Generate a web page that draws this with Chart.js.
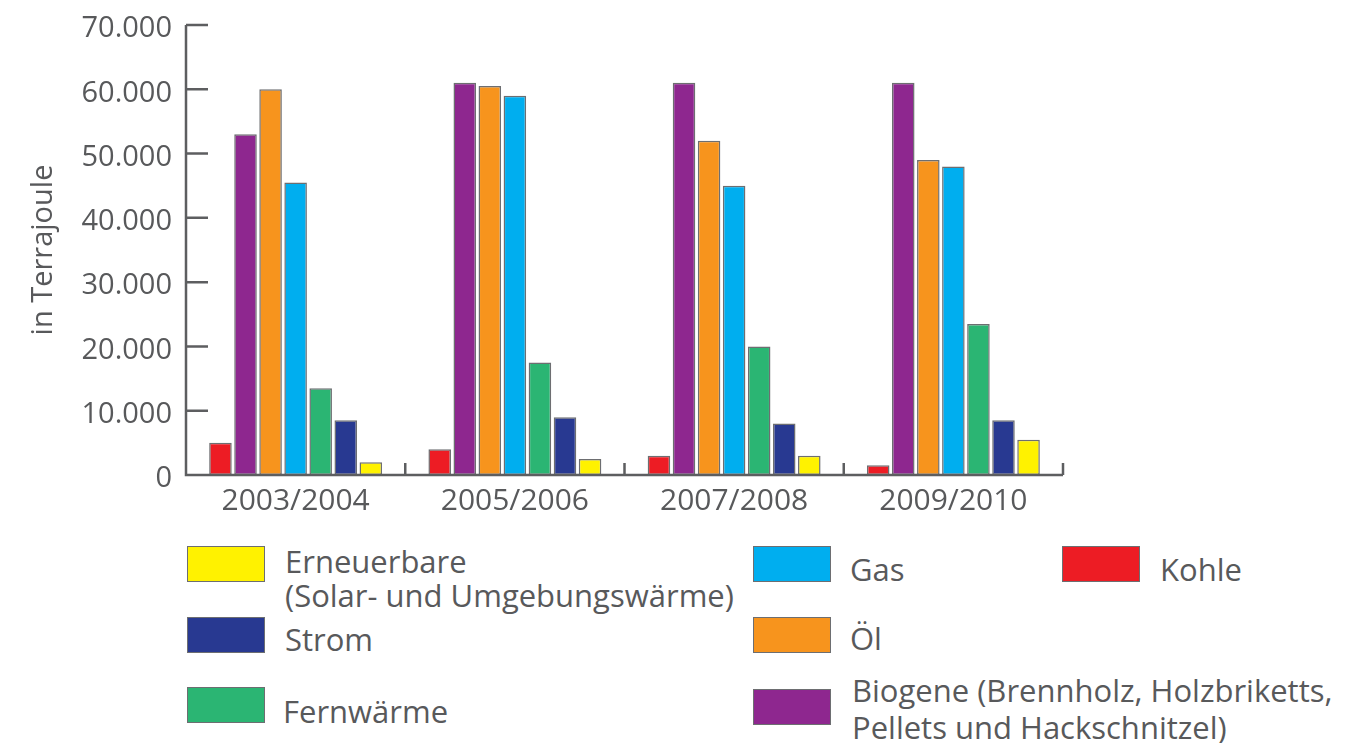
<!DOCTYPE html>
<html>
<head>
<meta charset="utf-8">
<script src="https://cdn.jsdelivr.net/npm/chart.js@4.4.1/dist/chart.umd.min.js"></script>
<style>
    body { margin: 0; background: #fff; font-family: "Open Sans", sans-serif; color: #58595b; }
    #wrap { position: relative; width: 1355px; height: 743px; overflow: hidden; }
    #chartBox { position: absolute; left: 0; top: 0; width: 1355px; height: 530px; }
    .sw { position: absolute; width: 78px; height: 36px; box-sizing: border-box; border: 1.5px solid #6d6e71; }
    .lt { position: absolute; font-size: 31px; line-height: 34px; white-space: nowrap; }
</style>
</head>
<body>
<div id="wrap">
    <div id="chartBox"><canvas id="energyChart"></canvas></div>
    <div id="legend"></div>
</div>
<script>
/* Werte (Terajoule) */
const categories = ['2003/2004', '2005/2006', '2007/2008', '2009/2010'];
const kohle       = [5000, 4000, 3000, 1500];
const biogene     = [53000, 61000, 61000, 61000];
const oel         = [60000, 60500, 52000, 49000];
const gas         = [45500, 59000, 45000, 48000];
const fernwaerme  = [13500, 17500, 20000, 23500];
const strom       = [8500, 9000, 8000, 8500];
const erneuerbare = [2000, 2500, 3000, 5500];
const yTicks = [0, 10000, 20000, 30000, 40000, 50000, 60000, 70000];

const axisColor = '#5d5e60';
const textColor = '#58595b';

const series = [
    { label: 'Kohle', data: kohle, color: '#ed1c24' },
    { label: 'Biogene', data: biogene, color: '#8e278f' },
    { label: 'Öl', data: oel, color: '#f7941d' },
    { label: 'Gas', data: gas, color: '#00aeef' },
    { label: 'Fernwärme', data: fernwaerme, color: '#2bb573' },
    { label: 'Strom', data: strom, color: '#283991' },
    { label: 'Erneuerbare', data: erneuerbare, color: '#fff200' },
];

// Legende: Position von Kästchen und Text
const legendItems = [
    { s: 'Erneuerbare', lines: ['Erneuerbare', '(Solar- und Umgebungswärme)'], x: 187, y: 546, tx: 285, ty: 544 },
    { s: 'Strom', lines: ['Strom'], x: 187, y: 617, tx: 285, ty: 622 },
    { s: 'Fernwärme', lines: ['Fernwärme'], x: 187, y: 687, tx: 283, ty: 694 },
    { s: 'Gas', lines: ['Gas'], x: 753, y: 546, tx: 850, ty: 552 },
    { s: 'Öl', lines: ['Öl'], x: 753, y: 617, tx: 850, ty: 621 },
    { s: 'Biogene', lines: ['Biogene (Brennholz, Holzbriketts,', 'Pellets und Hackschnitzel)'], x: 753, y: 689, tx: 852, ty: 672, lh: 37 },
    { s: 'Kohle', lines: ['Kohle'], x: 1062, y: 546, tx: 1160, ty: 552 },
];

const legendEl = document.getElementById('legend');
legendItems.forEach(it => {
    const ser = series.find(s => s.label === it.s);
    const sw = document.createElement('div');
    sw.className = 'sw';
    sw.style.left = it.x + 'px';
    sw.style.top = it.y + 'px';
    sw.style.background = ser.color;
    legendEl.appendChild(sw);
    const t = document.createElement('div');
    t.className = 'lt';
    t.style.left = it.tx + 'px';
    t.style.top = it.ty + 'px';
    if (it.lh) t.style.lineHeight = it.lh + 'px';
    t.innerHTML = it.lines.join('<br>');
    legendEl.appendChild(t);
});

// Achsen mit Innenstrichen zeichnen
const axisLines = {
    id: 'axisLines',
    afterDatasetsDraw(chart) {
        const { ctx, chartArea: a, scales: { x, y } } = chart;
        ctx.save();
        ctx.strokeStyle = axisColor;
        ctx.lineWidth = 2.5;
        ctx.beginPath();
        ctx.moveTo(a.left, y.getPixelForValue(yTicks[yTicks.length - 1]));
        ctx.lineTo(a.left, a.bottom);
        ctx.lineTo(a.right, a.bottom);
        yTicks.slice(1).forEach(v => {
            const py = y.getPixelForValue(v);
            ctx.moveTo(a.left, py);
            ctx.lineTo(a.left + 22, py);
        });
        for (let i = 1; i <= categories.length; i++) {
            const px = x.getPixelForValue(i - 0.5);
            ctx.moveTo(px, a.bottom);
            ctx.lineTo(px, a.bottom - 12);
        }
        ctx.stroke();
        ctx.restore();
    }
};

const ctx = document.getElementById('energyChart').getContext('2d');
const energyChart = new Chart(ctx, {
    type: 'bar',
    data: {
        labels: categories,
        datasets: series.map(s => ({
            label: s.label,
            data: s.data,
            backgroundColor: s.color,
            borderColor: '#6d6e71',
            borderWidth: 1.5,
            borderSkipped: false,
            categoryPercentage: 0.8,
            barPercentage: 0.9,
        }))
    },
    options: {
        responsive: true,
        maintainAspectRatio: false,
        animation: false,
        layout: { padding: { left: 22, top: 25, right: 292, bottom: 0 } },
        plugins: {
            legend: { display: false },
            tooltip: { enabled: false }
        },
        scales: {
            x: {
                grid: { display: false, drawTicks: false },
                border: { display: false },
                ticks: {
                    color: textColor,
                    padding: 8,
                    font: { family: 'Open Sans', size: 30 }
                },
                afterFit: s => { s.height = 55; }
            },
            y: {
                min: 0,
                max: 70000,
                grid: { display: false, drawTicks: false },
                border: { display: false },
                afterBuildTicks: s => { s.ticks = yTicks.map(v => ({ value: v })); },
                afterFit: s => { s.width = 186 - 22; s.paddingTop = 0; },
                ticks: {
                    color: textColor,
                    padding: 14,
                    labelOffset: 4,
                    font: { family: 'Open Sans', size: 29 },
                    callback: v => v.toLocaleString('de-DE')
                },
                title: {
                    display: true,
                    text: 'in Terrajoule',
                    color: textColor,
                    padding: { top: 4, bottom: 4 },
                    font: { family: 'Open Sans', size: 29 }
                }
            }
        }
    },
    plugins: [axisLines]
});
</script>
</body>
</html>
